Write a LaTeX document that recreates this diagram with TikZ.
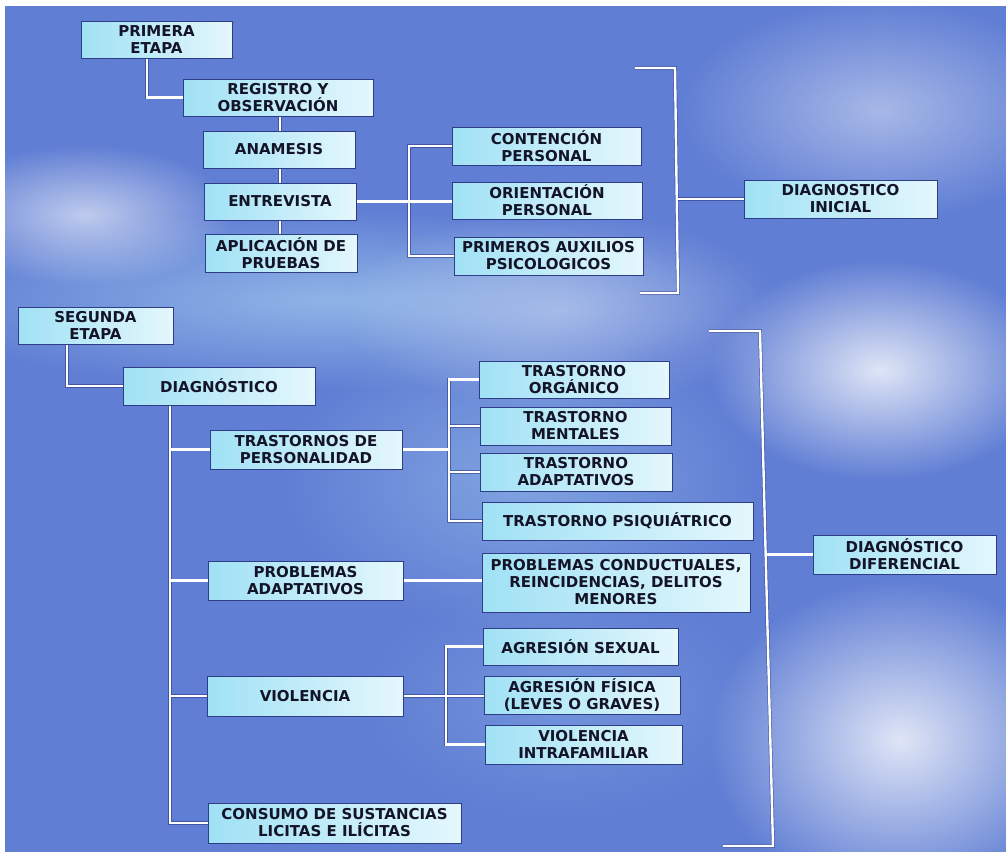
\documentclass[tikz,border=0pt]{standalone}
\usepackage{fontspec}
\setmainfont{DejaVu Sans}
\usetikzlibrary{fadings,calc}
\definecolor{bgblue}{RGB}{96,126,212}
\definecolor{ink}{RGB}{20,20,40}
\definecolor{boxL}{RGB}{160,225,245}
\definecolor{boxR}{RGB}{228,247,252}
\definecolor{edge}{RGB}{45,62,135}
\definecolor{glowcyan}{RGB}{190,235,250}
\tikzfading[name=glow, inner color=transparent!0, outer color=transparent!100]
\pgfdeclarelayer{bg}
\pgfdeclarelayer{conn}
\pgfsetlayers{bg,conn,main}
\newcommand\mybox[6]{%
  \node[box, minimum width={(#4-#2)*1pt}, minimum height={(#5-#3)*1pt}]
    (#1) at ({(#2+#4)/2},{(#3+#5)/2}) {#6};}
\newcommand\allconns[1]{%
  \draw[#1] (p1.south -| j1) |- (reg.west);
  \draw[#1] (reg.south -| v1) -- (apl.north -| v1);
  \draw[#1] (ent.east) -- (ori.west |- ent.east);
  \draw[#1] (con.west) -| (pri.west -| b1) -- (pri.west);
  \draw[#1] (br1a) -- (br1b) -- (br1c) -- (br1d);
  \draw[#1] (dxi.west -| br1m) -- (dxi.west);
  \draw[#1] (p2.south -| j2) |- (dx.west);
  \draw[#1] (dx.south -| m1) |- (cs.west);
  \draw[#1] (tp.west -| m1) -- (tp.west);
  \draw[#1] (pa.west -| m1) -- (pa.west);
  \draw[#1] (vio.west -| m1) -- (vio.west);
  \draw[#1] (tp.east) -- (tp.east -| b2);
  \draw[#1] (to.west) -| (tps.west -| b2) -- (tps.west);
  \draw[#1] (tm.west -| b2) -- (tm.west);
  \draw[#1] (ta.west -| b2) -- (ta.west);
  \draw[#1] (pa.east) -- (pc.west |- pa.east);
  \draw[#1] (vio.east) -- (af.west |- vio.east);
  \draw[#1] (as.west) -| (vi.west -| b3) -- (vi.west);
  \draw[#1] (br2a) -- (br2b) -- (br2c) -- (br2d);
  \draw[#1] (dd.west -| br2m) -- (dd.west);
}
\begin{document}
\begin{tikzpicture}[x=1pt,y=-1pt,
  box/.style={draw=edge, line width=0.9pt, left color=boxL, right color=boxR,
    inner sep=0pt, align=center, text=ink,
    font=\bfseries\fontsize{15}{17}\selectfont},
  lshadow/.style={draw=edge, line width=3.8pt, opacity=0.6, line join=miter},
  lwhite/.style={draw=white, line width=2.4pt, line join=miter}]
\useasboundingbox (0,0) rectangle (1006,852);
\begin{pgfonlayer}{bg}
  \fill[white] (0,0) rectangle (1006,852);
  \fill[bgblue] (5,6) rectangle (1006,852);
  \begin{scope}
    \clip (5,6) rectangle (1006,852);
    \fill[glowcyan, opacity=.5, path fading=glow] (330,300) ellipse (430pt and 90pt);
    \fill[white, opacity=.6, path fading=glow] (85,215) ellipse (150pt and 70pt);
    \fill[white, opacity=.35, path fading=glow] (560,310) ellipse (220pt and 100pt);
    \fill[white, opacity=.45, path fading=glow] (880,110) ellipse (200pt and 110pt);
    \fill[white, opacity=.8, path fading=glow] (880,370) ellipse (170pt and 110pt);
    \fill[white, opacity=.8, path fading=glow] (900,740) ellipse (190pt and 160pt);
    \fill[glowcyan, opacity=.35, path fading=glow] (520,480) ellipse (240pt and 150pt);
    \fill[glowcyan, opacity=.2, path fading=glow] (560,700) ellipse (200pt and 120pt);
  \end{scope}
\end{pgfonlayer}

% junction coordinates
\coordinate (j1) at (147,0);
\coordinate (v1) at (280,0);
\coordinate (b1) at (409,0);
\coordinate (br1a) at (635,68);
\coordinate (br1b) at (675,68);
\coordinate (br1c) at (678,293);
\coordinate (br1d) at (640,293);
\coordinate (br1m) at (676.5,0);
\coordinate (j2) at (67,0);
\coordinate (m1) at (170,0);
\coordinate (b2) at (449,0);
\coordinate (b3) at (446,0);
\coordinate (br2a) at (709,331);
\coordinate (br2b) at (760,331);
\coordinate (br2c) at (773,846);
\coordinate (br2d) at (723,846);
\coordinate (br2m) at (766,0);

% boxes
\mybox{p1}{81}{21}{232}{58}{PRIMERA\\ETAPA}
\mybox{reg}{183}{79}{373}{116}{REGISTRO Y\\OBSERVACIÓN}
\mybox{ana}{203}{131}{355}{168}{ANAMESIS}
\mybox{ent}{204}{183}{356}{220}{ENTREVISTA}
\mybox{apl}{205}{234}{357}{272}{APLICACIÓN DE\\PRUEBAS}
\mybox{con}{452}{127}{641}{165}{CONTENCIÓN\\PERSONAL}
\mybox{ori}{452}{182}{642}{219}{ORIENTACIÓN\\PERSONAL}
\mybox{pri}{454}{237}{643}{275}{PRIMEROS AUXILIOS\\PSICOLOGICOS}
\mybox{dxi}{744}{180}{937}{218}{DIAGNOSTICO\\INICIAL}
\mybox{p2}{18}{307}{173}{344}{SEGUNDA\\ETAPA}
\mybox{dx}{123}{367}{315}{405}{DIAGNÓSTICO}
\mybox{tp}{210}{430}{402}{469}{TRASTORNOS DE\\PERSONALIDAD}
\mybox{to}{479}{361}{669}{398}{TRASTORNO\\ORGÁNICO}
\mybox{tm}{480}{407}{671}{445}{TRASTORNO\\MENTALES}
\mybox{ta}{480}{453}{672}{491}{TRASTORNO\\ADAPTATIVOS}
\mybox{tps}{482}{502}{753}{540}{TRASTORNO PSIQUIÁTRICO}
\mybox{pa}{208}{561}{403}{600}{PROBLEMAS\\ADAPTATIVOS}
\mybox{pc}{482}{553}{750}{612}{PROBLEMAS CONDUCTUALES,\\REINCIDENCIAS, DELITOS\\MENORES}
\mybox{dd}{813}{535}{996}{574}{DIAGNÓSTICO\\DIFERENCIAL}
\mybox{as}{483}{628}{678}{665}{AGRESIÓN SEXUAL}
\mybox{af}{484}{676}{680}{714}{AGRESIÓN FÍSICA\\(LEVES O GRAVES)}
\mybox{vi}{485}{725}{682}{764}{VIOLENCIA\\INTRAFAMILIAR}
\mybox{vio}{207}{676}{403}{716}{VIOLENCIA}
\mybox{cs}{208}{803}{461}{843}{CONSUMO DE SUSTANCIAS\\LICITAS E ILÍCITAS}

\begin{pgfonlayer}{conn}
  \allconns{lshadow}
  \allconns{lwhite}
\end{pgfonlayer}
\end{tikzpicture}
\end{document}
